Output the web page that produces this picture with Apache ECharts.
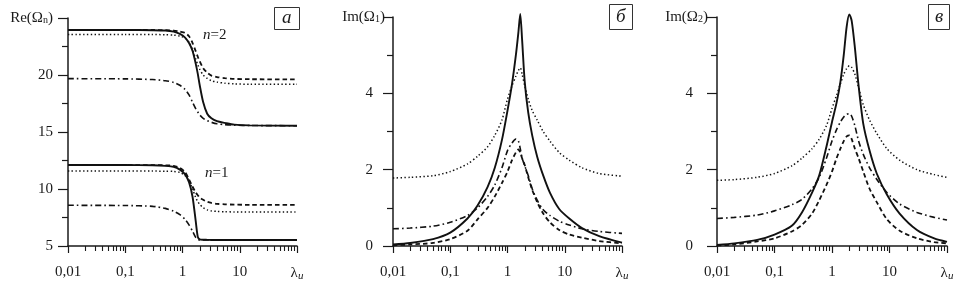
<!DOCTYPE html>
<html>
<head>
<meta charset="utf-8">
<script src="https://cdn.jsdelivr.net/npm/echarts@6/dist/echarts.min.js"></script>
<style>
html,body{margin:0;padding:0;background:#fff}
#main{width:963px;height:290px}
</style>
</head>
<body>
<div id="main"></div>
<script>
// --- panel a : Re(Omega_n), n = 1 and n = 2 ---
var lamA = [0.01, 0.1, 0.3, 0.5, 0.7, 0.9, 1.1, 1.3, 1.5, 1.7, 1.85, 2.0, 2.3, 2.7, 3.2, 4, 5.5, 8, 15, 100];
var a2Solid   = [23.95, 23.95, 23.93, 23.9, 23.8, 23.6, 23.3, 22.8, 22.1, 21.0, 20.1, 19.1, 17.6, 16.6, 16.2, 15.95, 15.8, 15.65, 15.58, 15.55];
var a2Dash    = [23.95, 23.95, 23.95, 23.93, 23.9, 23.8, 23.7, 23.4, 22.8, 22.1, 21.6, 21.2, 20.6, 20.2, 19.95, 19.82, 19.72, 19.66, 19.63, 19.62];
var a2Dot     = [23.55, 23.55, 23.55, 23.53, 23.5, 23.42, 23.25, 22.9, 22.2, 21.4, 20.9, 20.5, 20.0, 19.7, 19.5, 19.38, 19.28, 19.22, 19.19, 19.18];
var a2DashDot = [19.68, 19.66, 19.6, 19.5, 19.35, 19.1, 18.75, 18.25, 17.6, 17.05, 16.75, 16.5, 16.2, 16.0, 15.85, 15.72, 15.65, 15.6, 15.57, 15.55];
var a1Solid   = [12.1, 12.1, 12.08, 12.03, 11.95, 11.7, 11.3, 10.6, 9.3, 7.2, 5.8, 5.58, 5.55, 5.54, 5.53, 5.53, 5.53, 5.53, 5.53, 5.53];
var a1Dash    = [12.1, 12.1, 12.1, 12.08, 12.03, 11.85, 11.5, 10.85, 10.2, 9.7, 9.45, 9.25, 9.05, 8.88, 8.78, 8.7, 8.66, 8.63, 8.61, 8.6];
var a1Dot     = [11.57, 11.57, 11.57, 11.56, 11.54, 11.45, 11.2, 10.7, 10.0, 9.25, 8.9, 8.65, 8.35, 8.17, 8.08, 8.03, 8.0, 7.99, 7.98, 7.98];
var a1DashDot = [8.57, 8.55, 8.48, 8.3, 8.05, 7.75, 7.35, 6.85, 6.3, 5.75, 5.57, 5.54, 5.54, 5.53, 5.53, 5.53, 5.53, 5.53, 5.53, 5.53];

// --- panel b : Im(Omega_1) ---
var lamB = [0.01, 0.02, 0.05, 0.1, 0.2, 0.3, 0.45, 0.6, 0.8, 1.0, 1.2, 1.4, 1.55, 1.67, 1.8, 2.0, 2.3, 2.7, 3.3, 4.2, 5.5, 8, 12, 20, 40, 100];
var bSolid   = [0.04, 0.08, 0.18, 0.35, 0.72, 1.06, 1.55, 2.05, 2.78, 3.55, 4.25, 5.0, 5.6, 6.08, 5.4, 4.3, 3.5, 2.9, 2.34, 1.85, 1.4, 0.97, 0.72, 0.47, 0.26, 0.09];
var bDash    = [0.02, 0.04, 0.08, 0.18, 0.4, 0.7, 1.0, 1.3, 1.65, 1.95, 2.25, 2.45, 2.53, 2.45, 2.3, 2.12, 1.8, 1.47, 1.15, 0.85, 0.62, 0.42, 0.3, 0.22, 0.13, 0.07];
var bDot     = [1.78, 1.8, 1.84, 1.95, 2.15, 2.35, 2.6, 2.9, 3.3, 3.85, 4.2, 4.45, 4.6, 4.67, 4.5, 4.2, 3.85, 3.55, 3.3, 3.0, 2.75, 2.45, 2.25, 2.05, 1.9, 1.83];
var bDashDot = [0.45, 0.47, 0.52, 0.62, 0.8, 1.0, 1.3, 1.6, 2.05, 2.5, 2.7, 2.8, 2.75, 2.55, 2.3, 2.1, 1.85, 1.5, 1.2, 0.95, 0.8, 0.65, 0.55, 0.45, 0.38, 0.33];

// --- panel c : Im(Omega_2) ---
var lamC = [0.01, 0.02, 0.05, 0.1, 0.2, 0.3, 0.45, 0.6, 0.8, 1.0, 1.2, 1.4, 1.6, 1.8, 2.0, 2.2, 2.5, 2.9, 3.5, 4.5, 6, 9, 15, 30, 60, 100];
var cSolid   = [0.03, 0.07, 0.16, 0.3, 0.53, 0.88, 1.4, 1.85, 2.6, 3.25, 3.75, 4.3, 5.0, 5.75, 6.07, 5.9, 5.2, 4.2, 3.2, 2.5, 1.9, 1.35, 0.85, 0.42, 0.2, 0.11];
var cDash    = [0.01, 0.04, 0.12, 0.2, 0.38, 0.55, 0.85, 1.2, 1.6, 1.95, 2.3, 2.55, 2.75, 2.87, 2.9, 2.8, 2.55, 2.3, 1.95, 1.5, 1.15, 0.7, 0.4, 0.2, 0.1, 0.07];
var cDot     = [1.72, 1.74, 1.8, 1.9, 2.1, 2.3, 2.55, 2.8, 3.15, 3.6, 3.95, 4.25, 4.5, 4.65, 4.72, 4.68, 4.5, 4.15, 3.7, 3.3, 2.95, 2.55, 2.25, 2.0, 1.87, 1.8];
var cDashDot = [0.72, 0.75, 0.81, 0.92, 1.08, 1.22, 1.5, 1.8, 2.3, 2.75, 3.05, 3.25, 3.38, 3.45, 3.47, 3.4, 3.15, 2.75, 2.4, 2.05, 1.75, 1.4, 1.1, 0.88, 0.75, 0.68];

// tick labels
var xTickLabels = ['0,01', '0,1', '1', '10', '{l|λ}{u|u}'];
var yLabelsA = ['5', '10', '15', '20', '{t|Re(Ω}{s|n}{t|)}'];
var yLabelsB = ['0', '2', '4', '{t|Im(Ω}{s|1}{t|)}'];
var yLabelsC = ['0', '2', '4', '{t|Im(Ω}{s|2}{t|)}'];
var minorLam = [0.02, 0.03, 0.04, 0.05, 0.06, 0.07, 0.08, 0.09,
                0.2, 0.3, 0.4, 0.5, 0.6, 0.7, 0.8, 0.9,
                2, 3, 4, 5, 6, 7, 8, 9,
                20, 30, 40, 50, 60, 70, 80, 90];

var serif = "'Liberation Serif', 'DejaVu Serif', serif";
var ink = '#1a1a1a';

var styles = {
    solid:   { type: 'solid', width: 1.9 },
    dash:    { type: [4.5, 3], width: 1.8 },
    dot:     { type: [1.4, 2.4], width: 1.5 },
    dashdot: { type: [6, 3, 1.6, 3], width: 1.6 }
};

function curve(idx, lam, vals, st) {
    return {
        type: 'line', xAxisIndex: idx, yAxisIndex: idx,
        data: lam.map(function (x, i) { return [x, vals[i]]; }),
        showSymbol: false, smooth: 0.25, clip: false, silent: true,
        lineStyle: { color: '#111', width: styles[st].width, type: styles[st].type }
    };
}

function xAxis(idx) {
    return {
        type: 'log', logBase: 10, min: 0.01, max: 100, gridIndex: idx,
        axisLine: { lineStyle: { color: ink, width: 1.5 } },
        axisTick: { show: true, length: 7, lineStyle: { color: ink, width: 1.2 } },
        splitLine: { show: false },
        axisLabel: {
            margin: 19, color: ink, fontFamily: serif, fontSize: 15,
            formatter: function (v, i) { return xTickLabels[i]; },
            rich: {
                l: { fontFamily: serif, fontSize: 15, color: ink },
                u: { fontFamily: serif, fontSize: 11, fontStyle: 'italic', color: ink, verticalAlign: 'bottom', padding: [6, 0, 0, 0] }
            }
        }
    };
}

function yAxis(idx, min, max, step, labels, numPad, margin) {
    return {
        type: 'value', min: min, max: max, interval: step, gridIndex: idx,
        axisLine: { show: true, lineStyle: { color: ink, width: 1.5 } },
        axisTick: { show: true, length: 10, lineStyle: { color: ink, width: 1.2 } },
        minorTick: { show: true, splitNumber: 2, length: 6, lineStyle: { color: ink, width: 1.2 } },
        splitLine: { show: false },
        axisLabel: {
            margin: margin, color: ink, fontFamily: serif, fontSize: 15,
            formatter: function (v, i) {
                var s = labels[i];
                return s.charAt(0) === '{' ? s : '{n|' + s + '}';
            },
            rich: {
                n: { fontFamily: serif, fontSize: 15, color: ink, padding: [0, numPad, 0, 0] },
                t: { fontFamily: serif, fontSize: 15, color: ink },
                s: { fontFamily: serif, fontSize: 10, color: ink, verticalAlign: 'bottom', padding: [5, 0, 0, 0] }
            }
        }
    };
}

function boxTitle(txt, left, top, pad) {
    return {
        text: txt, left: left, top: top, padding: pad,
        borderWidth: 1, borderColor: '#333',
        textStyle: { fontFamily: serif, fontSize: 19, fontStyle: 'italic', fontWeight: 'normal', color: ink, lineHeight: 18 }
    };
}

var chart = echarts.init(document.getElementById('main'));
chart.setOption({
    animation: false,
    backgroundColor: '#fff',
    title: [
        boxTitle('а', 274, 8, [1, 8, 2, 8]),
        boxTitle('б', 609, 5, [3, 7, 3, 7]),
        boxTitle('в', 928, 5, [3, 7, 3, 7])
    ],
    grid: [
        { left: 68, top: 18, width: 229, height: 228 },
        { left: 393, top: 17, width: 229, height: 229 },
        { left: 717, top: 17, width: 230, height: 229 }
    ],
    xAxis: [xAxis(0), xAxis(1), xAxis(2)],
    yAxis: [
        yAxis(0, 5, 25, 5, yLabelsA, 0, 15),
        yAxis(1, 0, 6, 2, yLabelsB, 12, 8),
        yAxis(2, 0, 6, 2, yLabelsC, 15, 9)
    ],
    series: [
        curve(0, lamA, a2Solid, 'solid'),
        curve(0, lamA, a2Dash, 'dash'),
        curve(0, lamA, a2Dot, 'dot'),
        curve(0, lamA, a2DashDot, 'dashdot'),
        curve(0, lamA, a1Solid, 'solid'),
        curve(0, lamA, a1Dash, 'dash'),
        curve(0, lamA, a1Dot, 'dot'),
        curve(0, lamA, a1DashDot, 'dashdot'),
        curve(1, lamB, bSolid, 'solid'),
        curve(1, lamB, bDash, 'dash'),
        curve(1, lamB, bDot, 'dot'),
        curve(1, lamB, bDashDot, 'dashdot'),
        curve(2, lamC, cSolid, 'solid'),
        curve(2, lamC, cDash, 'dash'),
        curve(2, lamC, cDot, 'dot'),
        curve(2, lamC, cDashDot, 'dashdot')
    ]
});

// n labels and the log minor ticks (placed through the axes' own scales)
var nLabel = function (txt, left, top) {
    return { type: 'text', left: left, top: top, silent: true,
        style: { text: txt, fill: ink, font: '15px ' + serif,
            rich: { i: { fontStyle: 'italic', fontFamily: serif, fontSize: 15, fill: ink } } } };
};
var marks = [nLabel('{i|n}=2', 203, 28), nLabel('{i|n}=1', 205, 166)];
[[0, 5], [1, 0], [2, 0]].forEach(function (g) {
    minorLam.forEach(function (v) {
        var p = chart.convertToPixel({ gridIndex: g[0] }, [v, g[1]]);
        var x = Math.round(p[0]) + 0.5;
        marks.push({ type: 'line', silent: true, z: 10,
            shape: { x1: x, y1: p[1], x2: x, y2: p[1] + 5 },
            style: { stroke: ink, lineWidth: 1.1 } });
    });
});
chart.setOption({ graphic: marks });
</script>
</body>
</html>
